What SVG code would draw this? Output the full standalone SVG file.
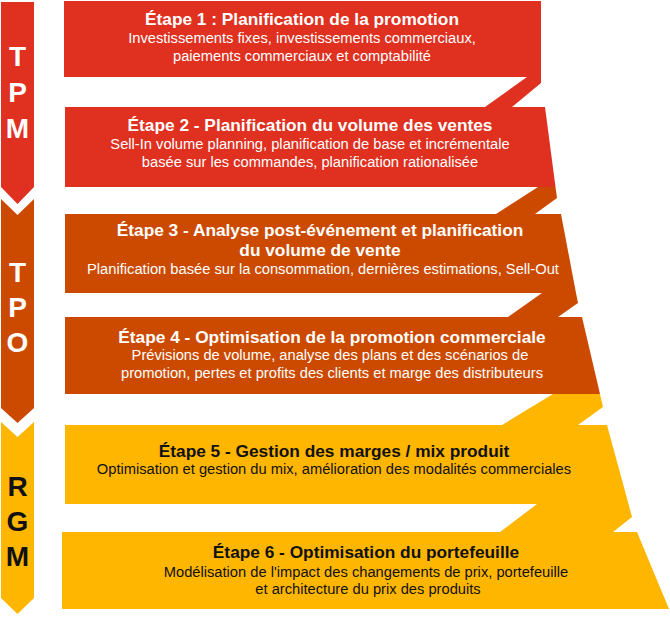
<svg xmlns="http://www.w3.org/2000/svg" width="670" height="617" viewBox="0 0 670 617">
<style>
.red{fill:#DF3020}.org{fill:#CC4A00}.yel{fill:#FFB600}
text{font-family:"Liberation Sans",Arial,sans-serif;text-anchor:middle}
.t{font-size:17.3px;font-weight:bold}
.b{font-size:14.7px}
.w{fill:#FFFFFF}.k{fill:#111111}
.lt{font-size:28px;font-weight:bold}
</style>
<rect width="670" height="617" fill="#FFFFFF"/>
<g id="arrows">
<g id="tpm"><polygon class="red" points="1,2 34,2 34,187 17.5,204 1,187"/>
<text class="lt w" x="17.5" y="66">T</text><text class="lt w" x="17.5" y="102">P</text><text class="lt w" x="17.5" y="138">M</text></g>
<g id="tpo"><polygon class="org" points="1,199 17.5,215 34,199 34,408 17.5,423 1,408"/>
<text class="lt w" x="17.5" y="282">T</text><text class="lt w" x="17.5" y="317">P</text><text class="lt w" x="17.5" y="352">O</text></g>
<g id="rgm"><polygon class="yel" points="1,422 17.5,437 34,422 34,598 17.5,614 1,598"/>
<text class="lt k" x="17.5" y="496">R</text><text class="lt k" x="17.5" y="531">G</text><text class="lt k" x="17.5" y="566">M</text></g>
</g>
<g id="step1"><polygon class="red" points="64,1 541,1 541,77 64,77"/>
<text class="t w" x="302" y="25">Étape 1 : Planification de la promotion</text>
<text class="b w" x="302" y="43">Investissements fixes, investissements commerciaux,</text>
<text class="b w" x="302" y="61">paiements commerciaux et comptabilité</text></g>
<g id="step2"><polygon class="red" points="65,107 545,107 555.5,187 65,187"/>
<text class="t w" x="310" y="131">Étape 2 - Planification du volume des ventes</text>
<text class="b w" x="310" y="149">Sell-In volume planning, planification de base et incrémentale</text>
<text class="b w" x="310" y="167">basée sur les commandes, planification rationalisée</text></g>
<g id="step3"><polygon class="org" points="65,214 561,214 576,293 65,293"/>
<text class="t w" x="320" y="236">Étape 3 - Analyse post-événement et planification</text>
<text class="t w" x="320" y="256">du volume de vente</text>
<text class="b w" x="323" y="274">Planification basée sur la consommation, dernières estimations, Sell-Out</text></g>
<g id="step4"><polygon class="org" points="65,317 582,317 600,394 65,394"/>
<text class="t w" x="332" y="343">Étape 4 - Optimisation de la promotion commerciale</text>
<text class="b w" x="330" y="360">Prévisions de volume, analyse des plans et des scénarios de</text>
<text class="b w" x="332" y="378">promotion, pertes et profits des clients et marge des distributeurs</text></g>
<g id="step5"><polygon class="yel" points="65,425 607,425 628.5,504 65,504"/>
<text class="t k" x="334" y="457">Étape 5 - Gestion des marges / mix produit</text>
<text class="b k" x="334" y="474">Optimisation et gestion du mix, amélioration des modalités commerciales</text></g>
<g id="step6"><polygon class="yel" points="62,532 637,532 669,609 62,609"/>
<text class="t k" x="366" y="558">Étape 6 - Optimisation du portefeuille</text>
<text class="b k" x="366" y="577">Modélisation de l'impact des changements de prix, portefeuille</text>
<text class="b k" x="368" y="594">et architecture du prix des produits</text></g>
<g id="connectors">
<polygon class="red" points="527,77 541,77 541,83 512,107 485,107"/>
<polygon class="org" points="538,187 555.5,187 557,198 535,214 496,214"/>
<polygon class="org" points="542,293 576,293 578,303 558,317 508,317"/>
<polygon class="yel" points="553,394 600,394 603,407 578,425 502,425"/>
<polygon class="yel" points="537,504 628.5,504 632,517 613,532 500,532"/>
</g>
</svg>
